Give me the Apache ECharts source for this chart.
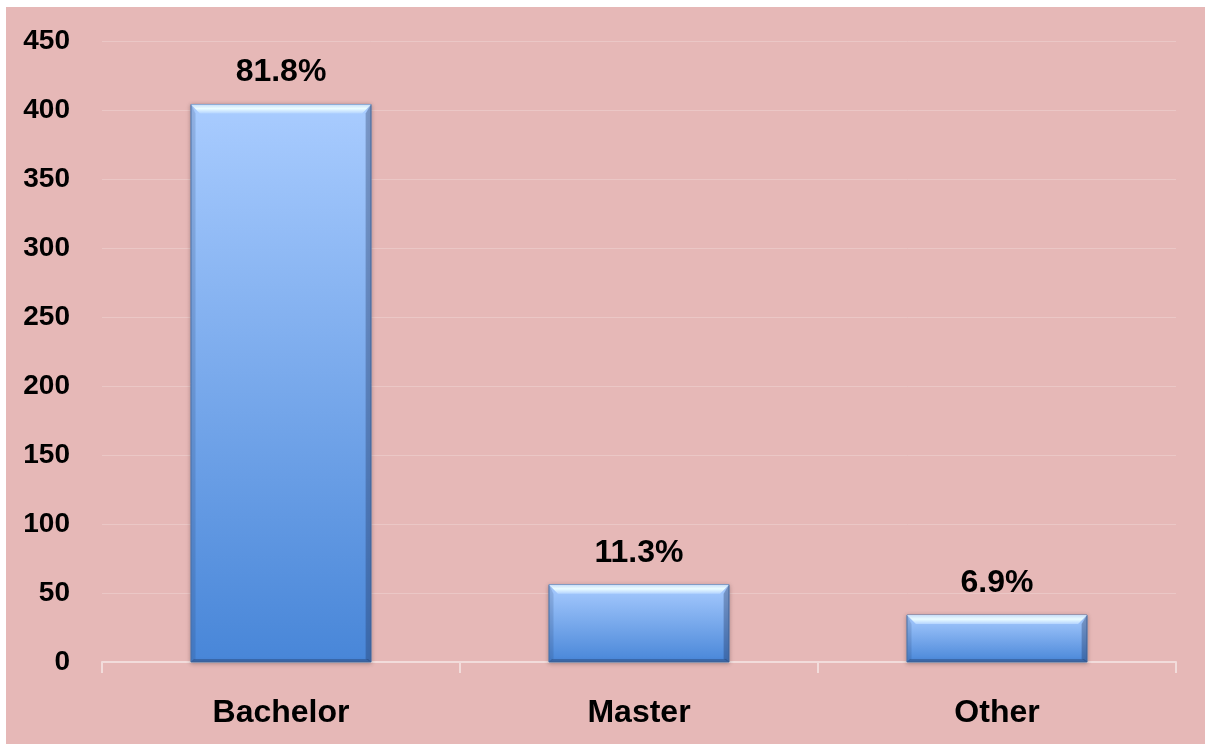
<!DOCTYPE html>
<html>
<head>
<meta charset="utf-8">
<script src="https://cdn.jsdelivr.net/npm/echarts@6/dist/echarts.min.js"></script>
<style>
  html, body { margin: 0; padding: 0; background: #fff; overflow: hidden; }
  #chart { position: fixed; left: 6px; top: 7px; right: 0; bottom: 1px; }
</style>
</head>
<body>
<div id="chart"></div>
<script>
const categories = ['Bachelor', 'Master', 'Other']
const counts = [404, 56, 34]
const percentLabels = ['81.8%', '11.3%', '6.9%']
const yTicks = [0, 50, 100, 150, 200, 250, 300, 350, 400, 450]

const chart = echarts.init(document.getElementById('chart'))

// bar body with bevelled edges, drawn from the axis coordinates
const renderBar = (params, api) => {
  const idx = api.value(0)
  const top = api.coord([idx, api.value(1)])
  const base = api.coord([idx, 0])
  const bw = api.size([1, 0])[0] * 0.503
  const x0 = top[0] - bw / 2
  const x1 = top[0] + bw / 2
  const y0 = top[1]
  const y1 = base[1]
  const b = 9
  return {
    type: 'group',
    children: [
      {
        type: 'rect',
        shape: { x: x0, y: y0, width: bw, height: y1 - y0 },
        style: {
          fill: new echarts.graphic.LinearGradient(0, 0, 0, 1, [
            { offset: 0, color: '#a9ccff' },
            { offset: 1, color: '#4886d8' }
          ]),
          stroke: '#5079b0',
          lineWidth: 1,
          shadowBlur: 4,
          shadowColor: 'rgba(60,40,40,0.35)',
          shadowOffsetY: 1
        }
      },
      {
        type: 'polygon',
        shape: { points: [[x0, y0], [x1, y0], [x1 - b, y0 + b], [x0 + b, y0 + b]] },
        style: {
          fill: new echarts.graphic.LinearGradient(0, 0, 0, 1, [
            { offset: 0, color: '#c8def8' },
            { offset: 0.45, color: '#eafcff' },
            { offset: 1, color: '#b4d4ff' }
          ])
        }
      },
      {
        type: 'polygon',
        shape: { points: [[x0, y0], [x0 + b * 0.5, y0 + b], [x0 + b * 0.5, y1 - 3], [x0, y1]] },
        style: { fill: 'rgba(40,70,120,0.16)' }
      },
      {
        type: 'polygon',
        shape: { points: [[x1, y0], [x1 - b * 0.6, y0 + b], [x1 - b * 0.6, y1 - 3], [x1, y1]] },
        style: { fill: 'rgba(30,50,90,0.32)' }
      },
      {
        type: 'polygon',
        shape: { points: [[x0, y1], [x1, y1], [x1 - 3, y1 - 3], [x0 + 3, y1 - 3]] },
        style: { fill: 'rgba(30,50,90,0.35)' }
      },
      {
        type: 'text',
        x: top[0],
        y: y0 - 16,
        style: {
          text: percentLabels[idx],
          fill: '#000',
          font: 'bold 32px "Liberation Sans", Arial, sans-serif',
          align: 'center',
          verticalAlign: 'bottom'
        }
      }
    ]
  }
}

chart.setOption({
  backgroundColor: '#e6b8b7',
  animation: false,
  grid: { left: 96, right: 29, top: 34, bottom: 82 },
  xAxis: {
    type: 'category',
    data: categories,
    axisLine: { lineStyle: { color: '#f2dcdb', width: 2 } },
    axisTick: { show: true, length: 11, lineStyle: { color: '#f2dcdb', width: 2 } },
    axisLabel: {
      color: '#000',
      fontFamily: '"Liberation Sans", Arial, sans-serif',
      fontWeight: 'bold',
      fontSize: 32,
      margin: 35
    }
  },
  yAxis: {
    type: 'value',
    min: yTicks[0],
    max: yTicks[yTicks.length - 1],
    interval: 50,
    axisLine: { show: false },
    axisTick: { show: false },
    splitLine: { lineStyle: { color: '#ebc7c6', width: 1 } },
    axisLabel: {
      color: '#000',
      fontFamily: '"Liberation Sans", Arial, sans-serif',
      fontWeight: 'bold',
      fontSize: 28,
      margin: 32
    }
  },
  series: [
    {
      type: 'custom',
      renderItem: renderBar,
      data: counts.map((v, i) => [i, v]),
      encode: { x: 0, y: 1 },
      z: 3
    }
  ]
})
</script>
</body>
</html>
